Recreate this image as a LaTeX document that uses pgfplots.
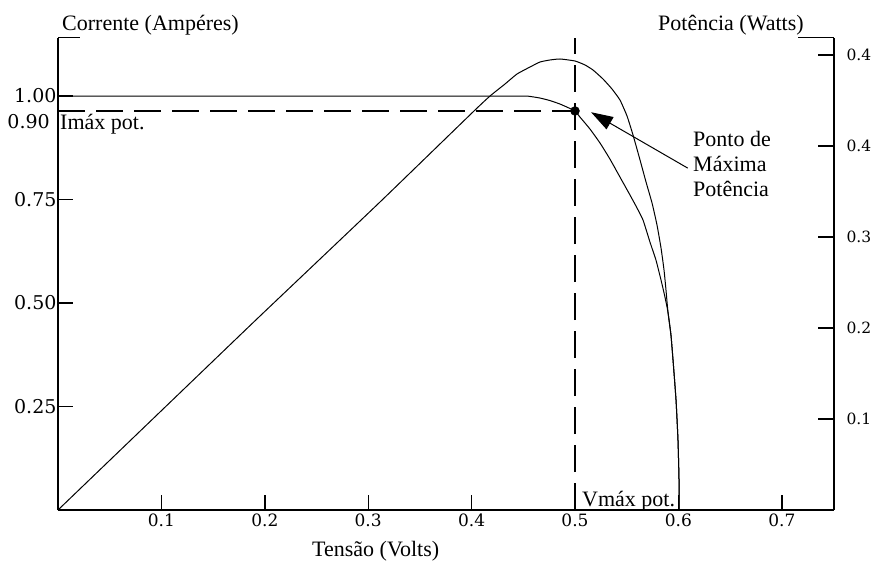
\documentclass[border=0pt]{standalone}
\usepackage{fontspec}
\setmainfont{Liberation Serif}
\newfontfamily\tickfont{DejaVu Serif}
\usepackage{pgfplots}
\usepackage{pgfplotstable}
\pgfplotsset{compat=1.18}
\usetikzlibrary{arrows.meta}

\pgfplotstableread{
v I
0 1.0
0.3 1.0
0.44 1.0
0.4536 1.0
0.4662 0.9952
0.4758 0.9891
0.4855 0.9807
0.4932 0.9722
0.5000 0.9638
0.5048 0.9493
0.5145 0.9203
0.5242 0.8865
0.5338 0.8478
0.5435 0.8043
0.5532 0.7609
0.5600 0.7295
0.5658 0.7005
0.5725 0.6473
0.5783 0.6039
0.5832 0.5556
0.5870 0.5145
0.5899 0.4783
0.5928 0.4227
0.5948 0.3623
0.5977 0.2657
0.5996 0.1691
0.6006 0.0725
0.6006 0
}\ivtable

\pgfplotstableread{
v P
0 0
0.164 0.179
0.198 0.216
0.311 0.338
0.401 0.437
0.4178 0.4549
0.4323 0.4681
0.4439 0.4791
0.4565 0.4868
0.4662 0.4923
0.4758 0.4945
0.4855 0.4956
0.5000 0.4934
0.5097 0.4890
0.5174 0.4835
0.5271 0.4736
0.5358 0.4626
0.5435 0.4505
0.5503 0.4330
0.5561 0.4121
0.5629 0.3846
0.5687 0.3604
0.5745 0.3374
0.5793 0.3132
0.5832 0.2879
0.5861 0.2637
0.5880 0.2418
0.5899 0.2176
0.5928 0.1923
0.5948 0.1648
0.5977 0.1209
0.5996 0.0769
0.6006 0.0330
0.6006 0
}\pvtable

\begin{document}
\begin{tikzpicture}[font=\fontsize{22}{25}\selectfont]
\path[use as bounding box] (0,0) rectangle (874pt,560pt);
\begin{axis}[
  at={(58pt,50pt)}, anchor=south west, scale only axis,
  width=776pt, height=472.3pt,
  xmin=0, xmax=0.7505, ymin=0, ymax=1.141,
  axis x line*=bottom, axis y line*=left,
  axis line style={line width=1.6pt,-},
  xtick={0.1,0.2,0.3,0.4,0.5,0.6,0.7},
  xticklabels={0.1,0.2,0.3,0.4,0.5,0.6,0.7},
  ytick={0.25,0.5,0.75,1},
  yticklabels={0.25,0.50,0.75,1.00},
  tick align=inside, major tick length=15pt,
  tick style={line width=1.4pt,black},
  /pgf/number format/assume math mode=true,
  xticklabel style={font=\tickfont\fontsize{17}{19}\selectfont, yshift=0pt},
  yticklabel style={font=\tickfont\fontsize{19}{21}\selectfont, xshift=2pt},
  clip=false,
]
\addplot[black, line width=1pt, smooth, tension=0.3] table[x=v,y=I] {\ivtable};
\addplot[black, line width=1.5pt, dash pattern=on 27pt off 11pt] coordinates {(0,0.964) (0.5,0.964)};
\addplot[black, line width=1.5pt, dash pattern=on 27pt off 11pt] coordinates {(0.5,0) (0.5,1.141)};
\addplot[black, only marks, mark=*, mark size=4.5pt] coordinates {(0.5,0.964)};
\draw[line width=1.6pt] (axis cs:0,1.141) -- ++(22pt,0);
\draw[line width=1pt, -{Triangle[length=22pt,width=14pt]}] (axis cs:0.609,0.826) -- (axis cs:0.5155,0.961);
\end{axis}
\begin{axis}[
  at={(58pt,50pt)}, anchor=south west, scale only axis,
  width=776pt, height=472.3pt,
  xmin=0, xmax=0.7505, ymin=0, ymax=0.519,
  axis x line=none, axis y line*=right,
  axis line style={line width=1.6pt,-},
  ytick={0.1,0.2,0.3,0.4,0.5},
  yticklabels={0.1,0.2,0.3,0.4,0.4},
  tick align=inside, major tick length=16pt,
  tick style={line width=1.4pt,black},
  /pgf/number format/assume math mode=true,
  yticklabel style={font=\tickfont\fontsize{15.5}{17}\selectfont, xshift=9pt},
  clip=false,
]
\addplot[black, line width=1pt, smooth, tension=0.3] table[x=v,y=P] {\pvtable};
\draw[line width=1.6pt] (axis cs:0.7505,0.519) -- ++(-36pt,0);
\end{axis}
\node[anchor=base west, inner sep=0pt] at (62pt,529pt) {Corrente (Ampéres)};
\node[anchor=base west, inner sep=0pt] at (658pt,529pt) {Potência (Watts)};
\node[anchor=base west, inner sep=0pt] at (312pt,4pt) {Tensão (Volts)};
\node[anchor=base west, inner sep=0pt] at (60pt,430pt) {Imáx pot.};
\node[anchor=base east, inner sep=0pt, font=\tickfont\fontsize{19}{21}\selectfont] at (50pt,431pt) {0.90};
\node[anchor=base west, inner sep=0pt] at (582pt,54pt) {Vmáx pot.};
\node[anchor=base west, inner sep=0pt] at (693pt,413pt) {Ponto de};
\node[anchor=base west, inner sep=0pt] at (693pt,388pt) {Máxima};
\node[anchor=base west, inner sep=0pt] at (693pt,363pt) {Potência};
\end{tikzpicture}
\end{document}
